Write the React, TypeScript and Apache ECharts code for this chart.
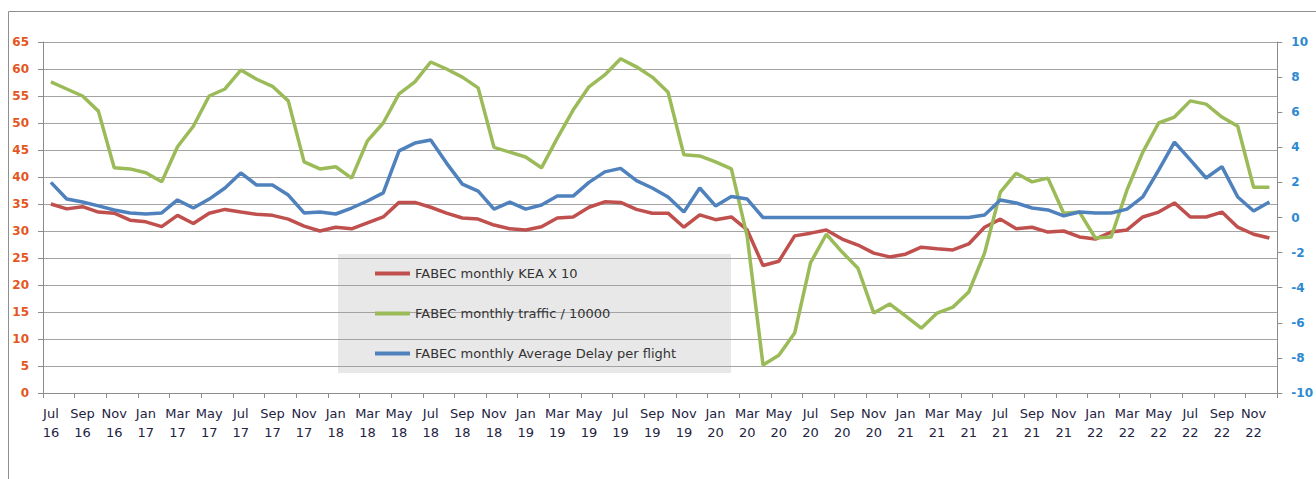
import React, { useEffect, useRef } from "react";
import * as echarts from "echarts";

const categories = [
  "Jul\n16", "Aug\n16", "Sep\n16", "Oct\n16", "Nov\n16", "Dec\n16",
  "Jan\n17", "Feb\n17", "Mar\n17", "Apr\n17", "May\n17", "Jun\n17", "Jul\n17", "Aug\n17", "Sep\n17", "Oct\n17", "Nov\n17", "Dec\n17",
  "Jan\n18", "Feb\n18", "Mar\n18", "Apr\n18", "May\n18", "Jun\n18", "Jul\n18", "Aug\n18", "Sep\n18", "Oct\n18", "Nov\n18", "Dec\n18",
  "Jan\n19", "Feb\n19", "Mar\n19", "Apr\n19", "May\n19", "Jun\n19", "Jul\n19", "Aug\n19", "Sep\n19", "Oct\n19", "Nov\n19", "Dec\n19",
  "Jan\n20", "Feb\n20", "Mar\n20", "Apr\n20", "May\n20", "Jun\n20", "Jul\n20", "Aug\n20", "Sep\n20", "Oct\n20", "Nov\n20", "Dec\n20",
  "Jan\n21", "Feb\n21", "Mar\n21", "Apr\n21", "May\n21", "Jun\n21", "Jul\n21", "Aug\n21", "Sep\n21", "Oct\n21", "Nov\n21", "Dec\n21",
  "Jan\n22", "Feb\n22", "Mar\n22", "Apr\n22", "May\n22", "Jun\n22", "Jul\n22", "Aug\n22", "Sep\n22", "Oct\n22", "Nov\n22", "Dec\n22",
];

const keaX10 = [
  35.0, 34.1, 34.5, 33.5, 33.3, 32.0,
  31.7, 30.8, 32.9, 31.4, 33.3, 34.0, 33.5, 33.1, 32.9, 32.2, 30.9, 30.0,
  30.7, 30.4, 31.5, 32.6, 35.3, 35.3, 34.4, 33.3, 32.4, 32.2, 31.1, 30.4,
  30.2, 30.8, 32.4, 32.6, 34.4, 35.4, 35.3, 34.0, 33.3, 33.3, 30.7, 33.0,
  32.1, 32.6, 30.2, 23.6, 24.4, 29.1, 29.6, 30.2, 28.5, 27.4, 25.9, 25.2,
  25.7, 27.0, 26.7, 26.5, 27.6, 30.7, 32.2, 30.4, 30.7, 29.8, 30.0, 28.9,
  28.5, 29.8, 30.2, 32.6, 33.5, 35.2, 32.6, 32.6, 33.5, 30.7, 29.4, 28.7,
];

const traffic = [
  57.6, 56.3, 55.0, 52.2, 41.7, 41.5,
  40.8, 39.1, 45.6, 49.4, 55.0, 56.3, 59.8, 58.1, 56.8, 54.1, 42.8, 41.5,
  41.9, 39.8, 46.7, 50.0, 55.4, 57.6, 61.3, 60.0, 58.5, 56.5, 45.5, 44.6,
  43.7, 41.7, 47.2, 52.4, 56.7, 58.9, 61.9, 60.4, 58.5, 55.7, 44.1, 43.9,
  42.8, 41.5, 29.0, 5.2, 7.0, 11.1, 24.1, 29.4, 26.1, 23.1, 14.8, 16.5,
  14.3, 12.0, 14.8, 15.9, 18.7, 25.9, 37.2, 40.7, 39.1, 39.8, 33.3, 33.5,
  28.7, 28.9, 37.6, 44.6, 50.0, 51.1, 54.1, 53.5, 51.1, 49.4, 38.1, 38.1,
];

const avgDelay = [
  2.0, 1.05, 0.88, 0.66, 0.43, 0.26,
  0.2, 0.26, 1.0, 0.54, 1.05, 1.68, 2.54, 1.85, 1.85, 1.28, 0.26, 0.31,
  0.2, 0.54, 0.94, 1.4, 3.8, 4.24, 4.42, 3.1, 1.9, 1.5, 0.48, 0.88,
  0.48, 0.71, 1.22, 1.22, 2.0, 2.6, 2.8, 2.1, 1.68, 1.17, 0.31, 1.68,
  0.66, 1.2, 1.05, 0, 0, 0, 0, 0, 0, 0, 0, 0,
  0, 0, 0, 0, 0, 0.14, 1.0, 0.83, 0.54, 0.43, 0.09, 0.31,
  0.26, 0.26, 0.48, 1.17, 2.7, 4.3, 3.28, 2.25, 2.9, 1.17, 0.37, 0.88,
];

const seriesNames = [
  "FABEC monthly KEA X 10",
  "FABEC monthly traffic / 10000",
  "FABEC monthly Average Delay per flight",
];

const FONT = "'DejaVu Sans', Verdana, sans-serif";

export default function App() {
  const ref = useRef<HTMLDivElement>(null);

  useEffect(() => {
    if (!ref.current) return;
    const chart = echarts.init(ref.current, null, { renderer: "svg" });
    const legendTops = [267, 307, 347];
    const colors = ["#C0504D", "#9BBB59", "#4F81BD"];
    chart.setOption({
      animation: false,
      color: colors,
      grid: { left: 43, right: 33, top: 42, bottom: 86, containLabel: false },
      graphic: [
        {
          type: "polyline",
          shape: { points: [[8.5, 479], [8.5, 11.5], [1316, 11.5]] },
          style: { stroke: "#8F8F8F", lineWidth: 1, fill: "none" },
          silent: true,
        },
        {
          type: "rect",
          shape: { x: 338, y: 254, width: 393, height: 119 },
          style: { fill: "rgba(195,195,195,0.38)" },
          silent: true,
        },
      ],
      legend: seriesNames.map((n, i) => ({
        data: [n],
        left: 375,
        top: legendTops[i],
        padding: 0,
        icon: "rect",
        itemWidth: 35,
        itemHeight: 4,
        selectedMode: false,
        textStyle: { fontFamily: FONT, fontSize: 13, color: "#333333" },
      })),
      xAxis: {
        type: "category",
        data: categories,
        boundaryGap: true,
        axisLine: { show: true, lineStyle: { color: "#8C8C8C", width: 1 } },
        axisTick: { show: true, interval: 1, length: 5, lineStyle: { color: "#8C8C8C" } },
        axisLabel: {
          interval: 1,
          fontFamily: FONT,
          fontSize: 13,
          lineHeight: 19,
          color: "#23233F",
          margin: 11,
        },
        splitLine: { show: false },
      },
      yAxis: [
        {
          type: "value",
          min: 0,
          max: 65,
          interval: 5,
          position: "left",
          axisLine: { show: true, lineStyle: { color: "#8C8C8C", width: 1 } },
          axisTick: { show: true, length: 5, lineStyle: { color: "#8C8C8C" } },
          axisLabel: {
            fontFamily: FONT,
            fontSize: 12,
            fontWeight: "bold",
            color: "#E4561F",
            margin: 14,
          },
          splitLine: { show: true, lineStyle: { color: "#A3A3A3", width: 1 } },
        },
        {
          type: "value",
          min: -10,
          max: 10,
          interval: 2,
          position: "right",
          axisLine: { show: true, lineStyle: { color: "#8C8C8C", width: 1 } },
          axisTick: { show: true, length: 5, lineStyle: { color: "#8C8C8C" } },
          axisLabel: {
            fontFamily: FONT,
            fontSize: 12,
            fontWeight: "bold",
            color: "#2E89D3",
            margin: 14,
          },
          splitLine: { show: false },
        },
      ],
      series: [
        {
          name: seriesNames[0],
          type: "line",
          data: keaX10,
          yAxisIndex: 0,
          symbol: "none",
          lineStyle: { width: 3.5, color: colors[0] },
          itemStyle: { color: colors[0] },
        },
        {
          name: seriesNames[1],
          type: "line",
          data: traffic,
          yAxisIndex: 0,
          symbol: "none",
          lineStyle: { width: 3.5, color: colors[1] },
          itemStyle: { color: colors[1] },
        },
        {
          name: seriesNames[2],
          type: "line",
          data: avgDelay,
          yAxisIndex: 1,
          symbol: "none",
          lineStyle: { width: 3.5, color: colors[2] },
          itemStyle: { color: colors[2] },
        },
      ],
    });
    return () => chart.dispose();
  }, []);

  return (
    <div
      ref={ref}
      style={{ position: "fixed", left: 0, top: 0, width: 1316, height: 479, background: "#ffffff" }}
    />
  );
}
